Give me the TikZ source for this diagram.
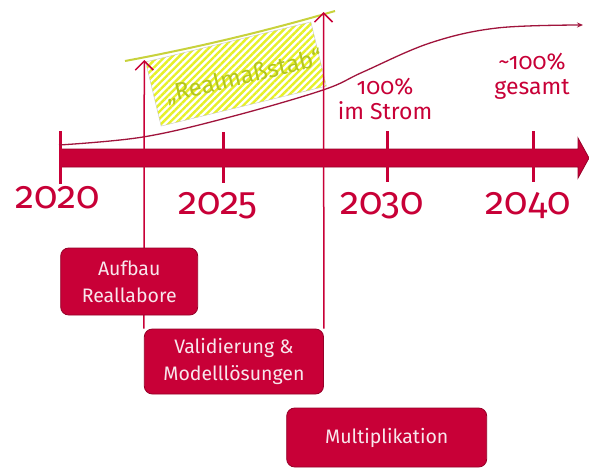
\documentclass[tikz,border=0pt]{standalone}
\usepackage{fontspec}
\setmainfont{Fira Sans}[Numbers=OldStyle]
\usetikzlibrary{arrows.meta,patterns.meta}
\definecolor{crimson}{RGB}{200,0,55}
\definecolor{crimsondark}{RGB}{150,0,40}
\definecolor{wine}{RGB}{160,20,60}
\definecolor{stripe}{RGB}{230,240,40}
\definecolor{olive}{RGB}{180,198,30}
\definecolor{limeline}{RGB}{200,210,60}
\definecolor{boxtext}{RGB}{248,230,236}
\pgfdeclarelayer{front}
\pgfsetlayers{main,front}
\begin{document}
\begin{tikzpicture}[x=1pt,y=-1pt,
  phase/.style={draw=crimsondark, line width=0.8pt, fill=crimson, rounded corners=8pt,
    text=boxtext, font=\fontsize{19.5}{27}\selectfont, align=center, inner sep=0pt},
  year/.style={text=crimson, font=\fontsize{38.5}{38}\selectfont, anchor=base},
  note/.style={text=crimson, font=\fontsize{23}{25}\selectfont, align=center},
  yeartick/.style={crimson, line width=3pt},
  milestone/.style={crimson, line width=1.5pt,
    -{Straight Barb[length=9pt,width=18pt,line width=1.5pt]}},
]
\useasboundingbox[fill=white] (0,0) rectangle (589,469);

% phase boxes
\begin{pgfonlayer}{front}
\node[phase, minimum width=137pt, minimum height=67pt] (aufbau) at (129.2,281.5) {Aufbau\\Reallabore};
\node[phase, minimum width=179.2pt, minimum height=65pt] (valid) at (233.9,361.5) {Validierung \&\\Modelllösungen};
\node[phase, minimum width=200pt, minimum height=59pt] (multi) at (386.7,437.5) {Multiplikation};
\end{pgfonlayer}

% time axis
\draw[fill=crimson, draw=crimsondark, line width=0.8pt]
  (60,149) -- (578,149) -- (578,138) -- (589,158) -- (578,178) -- (578,167) -- (60,167) -- cycle;
\draw[yeartick] (60,131) -- (60,184);
\draw[yeartick] (223,132) -- (223,183);
\draw[yeartick] (387,131) -- (387,182);
\draw[yeartick] (533,131) -- (533,182);

\node[year] (y2020) at (58,208) {2020};
\node[year] (y2025) at (218,214) {2025};
\node[year] (y2030) at (382,214) {2030};
\node[year] (y2040) at (528,214) {2040};

% share of renewables
\draw[wine, line width=1.3pt, -{Stealth[length=6pt,width=5pt]}]
  plot[smooth, tension=0.6] coordinates {(59,145) (143,137) (230,117) (323,90) (363,72) (430,43) (497,28) (583,25)};

\node[note] (strom) at (385,99) {100\%\\im Strom};
\node[note] (gesamt) at (532,76) {\textasciitilde100\%\\gesamt};

% real-scale phase
\node[draw=gray!45, line width=0.4pt, pattern={Lines[angle=45,distance=5pt,line width=2.4pt]},
  pattern color=stripe, minimum width=170pt, minimum height=66pt, rotate=13.6, inner sep=0pt]
  (realscale) at (236,74) {};
\draw[limeline, line width=2pt] (125,61) .. controls (200,47) and (270,30) .. (335,11);
\node[text=olive, font=\fontsize{24}{24}\selectfont, rotate=13.6, inner sep=0pt]
  (realtext) at (244,77) {„Realmaßstab“};

% milestones
\coordinate (m1) at (144.3,60);
\coordinate (m2) at (323.5,12);
\draw[milestone] (valid.north west) -- (m1);
\draw[milestone] (valid.north east) -- (m2);
\end{tikzpicture}
\end{document}
